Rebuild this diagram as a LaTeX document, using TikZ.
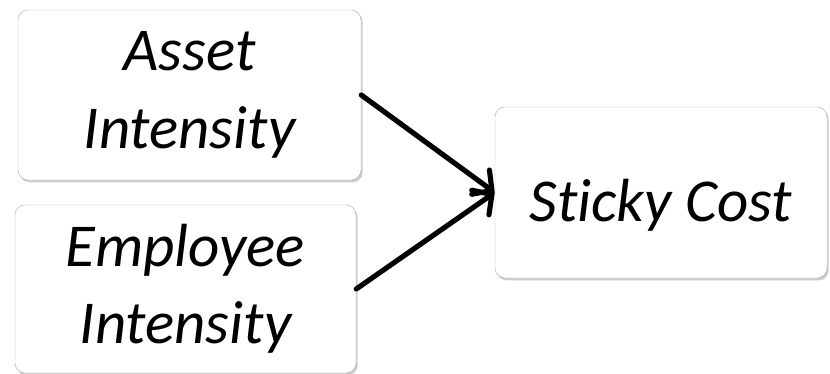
\documentclass[tikz,border=0pt]{standalone}
\usepackage{fontspec}
\setmainfont{Carlito}[Ligatures=NoCommon]
\usetikzlibrary{arrows.meta,shadows}

\begin{document}
\begin{tikzpicture}[x=0.03cm,y=-0.03cm,
  box/.style={draw=gray!60,fill=white,rounded corners=0.3cm,inner sep=0pt,
    align=center,font=\fontsize{52}{66}\selectfont\itshape,
    execute at begin node={\rule{0pt}{58pt}},
    drop shadow={shadow xshift=0.05cm,shadow yshift=-0.07cm,opacity=0.4,fill=gray}},
  link/.style={line width=4.4pt,line cap=round,
    -{Straight Barb[length=0.42cm,width=0.9cm,line cap=round]}}]
\useasboundingbox (0,0) rectangle (830,374);
\node[box,minimum width=10.29cm,minimum height=5.1cm] (asset)at(189.5,95){Asset\\Intensity};
\node[box,minimum width=10.23cm,minimum height=5.04cm] (employee)at(185.5,289){Employee\\Intensity};
\node[box,minimum width=9.96cm,minimum height=5.13cm] (sticky)at(661,192.5){Sticky Cost};
\draw[link] (asset.east) -- (sticky.west);
\draw[link] (employee.east) -- (sticky.west);
\end{tikzpicture}
\end{document}
